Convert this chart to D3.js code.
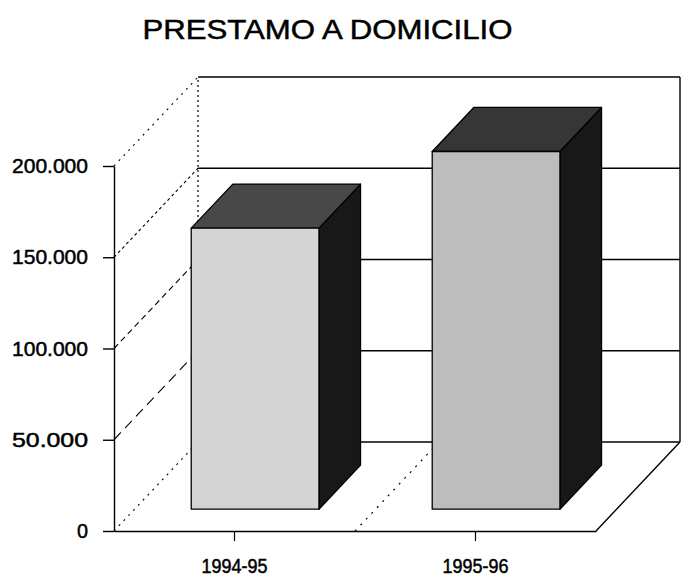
<!DOCTYPE html>
<html>
<head>
<meta charset="utf-8">
<script src="https://cdn.jsdelivr.net/npm/d3@7"></script>
<style>
  html, body { margin: 0; padding: 0; background: #fff; }
  svg { display: block; }
  text { font-family: "Liberation Sans", Arial, sans-serif; fill: #000; }
</style>
</head>
<body>
<svg id="chart" width="684" height="585"></svg>
<script>
// ---- data ----
const title = "PRESTAMO A DOMICILIO";
const categories = ["1994-95", "1995-96"];
const values = [154000, 196000];
const yTicks = [0, 50000, 100000, 150000, 200000];
const yTickLabels = ["0", "50.000", "100.000", "150.000", "200.000"];

// ---- layout ----
const svg = d3.select("#chart");
const depthX = 84, depthY = -89;        // oblique depth of the box
const zFront = 0.245, zBack = 0.74;     // bar depth span (fraction of box depth)

const y = d3.scaleLinear().domain([0, 200000]).range([531, 166]);
const x = d3.scaleBand().domain(categories).range([114, 596])
  .paddingInner(0.47).paddingOuter(0.235);

const P = (xv, yv, z) => [xv + z * depthX, yv + z * depthY];
const line = d3.line();

// title
svg.append("text")
  .attr("x", 327.5).attr("y", 39)
  .attr("text-anchor", "middle")
  .attr("font-size", 28)
  .attr("textLength", 370).attr("lengthAdjust", "spacingAndGlyphs")
  .style("stroke", "#000").style("stroke-width", 0.5)
  .text(title);

const xL = x.range()[0], xR = x.range()[1];
const g = svg.append("g").attr("fill", "none").attr("stroke", "#000");

// back wall gridlines
g.selectAll(".bgrid").data(yTicks).enter().append("path")
  .attr("d", v => line([P(xL, y(v), 1), P(xR, y(v), 1)]))
  .attr("stroke-width", 1.4);

// back wall vertical edges
g.append("path").attr("d", line([P(xL, y(0), 1), P(xL, y(200000), 1)]))
  .attr("stroke-width", 1.2).attr("stroke-dasharray", "2,3");
g.append("path").attr("d", line([P(xR, y(0), 1), P(xR, y(200000), 1)]))
  .attr("stroke-width", 1.4);

// left wall (depth) gridlines
const dashes = ["2,5", "10,6", "6,4", "3,3", "2,5"];
g.selectAll(".lgrid").data(yTicks).enter().append("path")
  .attr("d", v => line([P(xL, y(v), 0), P(xL, y(v), 1)]))
  .attr("stroke-width", 1.1)
  .attr("stroke-dasharray", (v, i) => dashes[i]);

// floor right edge and category divider
g.append("path").attr("d", line([P(xR, y(0), 0), P(xR, y(0), 1)]))
  .attr("stroke-width", 1.4);
const divX = x(categories[1]) - x.step() * x.paddingInner() / 2;
g.append("path").attr("d", line([P(divX, y(0), 0), P(divX, y(0), 1)]))
  .attr("stroke-width", 1.2).attr("stroke-dasharray", "2,6");

// axes
const yAxis = d3.axisLeft(y).tickValues(yTicks)
  .tickFormat((d, i) => yTickLabels[i]).tickSize(11).tickPadding(15).tickSizeOuter(0);
const ya = svg.append("g").attr("transform", `translate(${xL},0)`).call(yAxis);
ya.select(".domain").attr("stroke-width", 1.4);
ya.selectAll(".tick line").attr("stroke-width", 1.4);
ya.selectAll("text").attr("font-size", 21)
  .attr("font-family", "'Liberation Sans', Arial, sans-serif")
  .style("stroke", "#000").style("stroke-width", 0.5)
  .attr("textLength", function() { return this.textContent.length > 1 ? 76 : 11; })
  .attr("lengthAdjust", "spacingAndGlyphs");

const xAxis = d3.axisBottom(x).tickSize(10).tickPadding(18).tickSizeOuter(0);
const xa = svg.append("g").attr("transform", `translate(0,${y(0)})`).call(xAxis);
xa.select(".domain").attr("stroke-width", 1.6);
xa.selectAll(".tick line").attr("stroke-width", 1.2);
xa.selectAll("text").attr("font-size", 20)
  .attr("font-family", "'Liberation Sans', Arial, sans-serif")
  .style("stroke", "#000").style("stroke-width", 0.5)
  .attr("textLength", 66).attr("lengthAdjust", "spacingAndGlyphs");

// bars
const frontFill = ["#d4d4d4", "#bdbdbd"];
const topFill = ["#484848", "#363636"];
const sideFill = ["#181818", "#181818"];
const bars = svg.append("g");
categories.forEach((c, i) => {
  const xl = x(c), xr = x(c) + x.bandwidth();
  const yb = y(0), yt = y(values[i]);
  const gb = bars.append("g").attr("stroke", "#000").attr("stroke-width", 1.3)
    .attr("stroke-linejoin", "round");
  gb.append("path").attr("fill", sideFill[i])
    .attr("d", line([P(xr, yt, zFront), P(xr, yt, zBack), P(xr, yb, zBack), P(xr, yb, zFront)]) + "Z");
  gb.append("path").attr("fill", topFill[i])
    .attr("d", line([P(xl, yt, zFront), P(xl, yt, zBack), P(xr, yt, zBack), P(xr, yt, zFront)]) + "Z");
  gb.append("path").attr("fill", frontFill[i])
    .attr("d", line([P(xl, yt, zFront), P(xr, yt, zFront), P(xr, yb, zFront), P(xl, yb, zFront)]) + "Z");
});
</script>
</body>
</html>
